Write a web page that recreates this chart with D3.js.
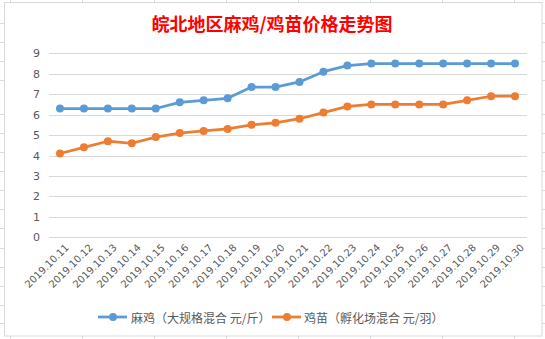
<!DOCTYPE html>
<html>
<head>
<meta charset="utf-8">
<script src="https://cdn.jsdelivr.net/npm/d3@7"></script>
<style>
  html, body { margin: 0; padding: 0; background: #fff; }
  svg { display: block; }
</style>
</head>
<body>
<div id="chart"></div>
<script>
const title = "皖北地区麻鸡/鸡苗价格走势图";
const categories = ["2019.10.11","2019.10.12","2019.10.13","2019.10.14","2019.10.15","2019.10.16","2019.10.17","2019.10.18","2019.10.19","2019.10.20","2019.10.21","2019.10.22","2019.10.23","2019.10.24","2019.10.25","2019.10.26","2019.10.27","2019.10.28","2019.10.29","2019.10.30"];
const seriesNames = ["麻鸡（大规格混合 元/斤）", "鸡苗（孵化场混合 元/羽）"];
const maji = [6.3,6.3,6.3,6.3,6.3,6.6,6.7,6.8,7.35,7.35,7.6,8.1,8.4,8.5,8.5,8.5,8.5,8.5,8.5,8.5];
const jimiao = [4.1,4.4,4.7,4.6,4.9,5.1,5.2,5.3,5.5,5.6,5.8,6.1,6.4,6.5,6.5,6.5,6.5,6.7,6.9,6.9];
const yTicks = [0,1,2,3,4,5,6,7,8,9];
const colors = ["#5B9BD5", "#ED7D31"];

const W = 545, H = 339;
const svg = d3.select("#chart").append("svg").attr("width", W).attr("height", H)
  .style("font-family", "'Noto Sans CJK SC', 'DejaVu Sans', sans-serif");

// spreadsheet cell grid behind the chart
const colLines = [10, 82, 154, 226, 298, 370, 442, 514];
const rowLines = [23.3, 42.3, 61.3, 80.3, 114.3, 133, 152, 171.3, 190.3, 209.3, 228.3, 247.7, 266.7, 285.7, 304.7, 323.3];
const bg = svg.append("g").attr("stroke", "#DADADA").attr("stroke-width", 1);
colLines.forEach(x => bg.append("line").attr("x1", x + 0.5).attr("x2", x + 0.5).attr("y1", 0).attr("y2", H));
rowLines.forEach(y => bg.append("line").attr("x1", 0).attr("x2", W).attr("y1", Math.round(y) + 0.5).attr("y2", Math.round(y) + 0.5));

// chart area
svg.append("rect").attr("x", 4.5).attr("y", 2.5).attr("width", 537.5).attr("height", 333.5)
  .attr("fill", "#fff").attr("stroke", "#D9D9D9").attr("stroke-width", 1);

const x = d3.scalePoint().domain(categories).range([48, 527]).padding(0.5);
const y = d3.scaleLinear().domain([0, 9]).range([237.3, 53.3]);

// gridlines
const grid = svg.append("g");
yTicks.forEach(t => {
  grid.append("line").attr("x1", 49).attr("x2", 527)
    .attr("y1", Math.round(y(t)) + 0.5).attr("y2", Math.round(y(t)) + 0.5)
    .attr("stroke", "#D9D9D9").attr("stroke-width", 1);
});

// y axis labels
const yAxis = d3.axisLeft(y).tickValues(yTicks).tickSize(0).tickPadding(0).tickFormat(d3.format("d"));
const yg = svg.append("g").attr("transform", "translate(40,0)").call(yAxis);
yg.select(".domain").remove();
yg.selectAll("text").attr("fill", "#595959").style("font-size", "11px")
  .style("font-family", "'DejaVu Sans', sans-serif");

// x axis labels
const xAxis = d3.axisBottom(x).tickSize(0).tickPadding(0);
const xg = svg.append("g").attr("transform", "translate(0,0)").call(xAxis);
xg.select(".domain").remove();
xg.selectAll(".tick text")
  .attr("fill", "#595959")
  .style("font-size", "10px")
  .style("font-family", "'DejaVu Sans', sans-serif")
  .attr("text-anchor", "end")
  .attr("dy", null).attr("y", null)
  .attr("transform", "translate(7,246) rotate(-45)")
  .attr("dominant-baseline", "middle");

// lines & markers
const line = d3.line().x((d, i) => x(categories[i])).y(d => y(d));
[maji, jimiao].forEach((data, si) => {
  svg.append("path").datum(data).attr("d", line)
    .attr("fill", "none").attr("stroke", colors[si]).attr("stroke-width", 2.75)
    .attr("stroke-linejoin", "round").attr("stroke-linecap", "round");
  svg.append("g").selectAll("circle").data(data).join("circle")
    .attr("cx", (d, i) => x(categories[i])).attr("cy", d => y(d))
    .attr("r", 4).attr("fill", colors[si]);
});

// title
svg.append("text").attr("x", 272).attr("y", 31).attr("text-anchor", "middle")
  .attr("fill", "#FF0000").style("font-size", "18px").style("font-weight", "bold")
  .text(title);

// legend
const legendItems = [
  { lx: 98, tx: 131 },
  { lx: 272, tx: 304 }
];
legendItems.forEach((it, i) => {
  const g = svg.append("g");
  g.append("line").attr("x1", it.lx).attr("x2", it.lx + 29).attr("y1", 317).attr("y2", 317)
    .attr("stroke", colors[i]).attr("stroke-width", 2.75);
  g.append("circle").attr("cx", it.lx + 15).attr("cy", 317).attr("r", 4).attr("fill", colors[i]);
  g.append("text").attr("x", it.tx).attr("y", 317).attr("dominant-baseline", "central")
    .attr("fill", "#595959").style("font-size", "12px").text(seriesNames[i]);
});
</script>
</body>
</html>
